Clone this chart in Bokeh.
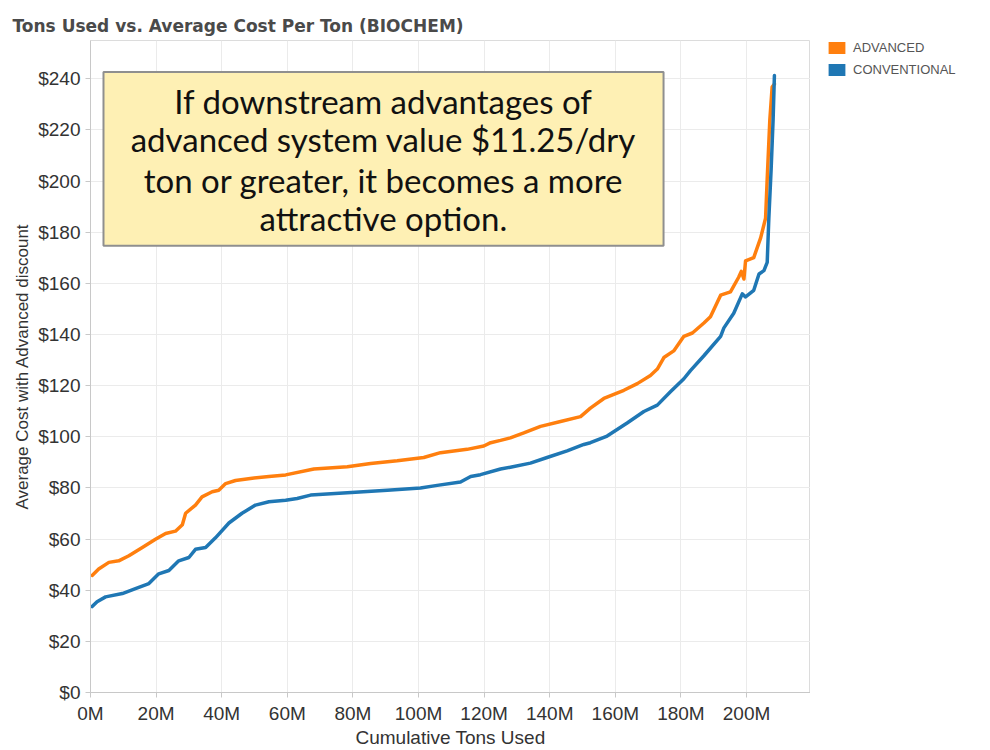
from bokeh.plotting import figure
from bokeh.layouts import row
from bokeh.models import (Range1d, FixedTicker, PrintfTickFormatter, NumeralTickFormatter,
                          Label, BoxAnnotation, Legend, LegendItem)
from bokeh.embed import file_html
from bokeh.resources import INLINE

# Cumulative tons used (millions) and average cost ($/ton)
adv_x = [0.5, 2.5, 5.6, 8.6, 11.7, 15.8, 19.8, 22.9, 25.9, 28.0, 29.0, 32.0, 34.0, 37.1, 39.1,
         41.2, 44.2, 49.3, 54.4, 59.5, 68.1, 78.3, 85.4, 93.5, 101.6, 106.7, 114.8, 119.9, 122.0,
         125.0, 128.0, 132.1, 137.2, 143.3, 149.4, 152.4, 156.5, 162.6, 166.7, 170.7, 172.8,
         174.8, 177.8, 180.9, 183.5, 187.0, 189.0, 192.1, 195.1, 197.6, 198.4, 199.2, 199.7,
         202.2, 204.3, 205.8, 206.3, 207.1, 207.8, 208.5]
adv_y = [45.8, 48.3, 50.9, 51.5, 53.5, 56.7, 59.9, 62.2, 63.1, 65.6, 70.1, 73.3, 76.5, 78.5, 79.1,
         81.7, 82.9, 83.8, 84.5, 85.1, 87.4, 88.3, 89.6, 90.6, 91.9, 93.8, 95.1, 96.4, 97.7,
         98.6, 99.6, 101.5, 104.1, 106.0, 107.9, 111.2, 115.0, 118.2, 120.8, 124.0, 126.5,
         131.0, 133.6, 139.3, 140.6, 144.5, 147.0, 155.4, 156.7, 162.4, 164.7, 161.7, 168.8,
         170.1, 177.8, 185.5, 200.9, 224.0, 236.8, 238.0]

conv_x = [0.5, 2.0, 4.6, 9.7, 13.7, 17.8, 20.8, 23.9, 26.9, 30.0, 32.0, 35.1, 38.1, 42.2, 46.2,
          50.3, 54.4, 59.5, 63.0, 67.1, 78.3, 90.5, 100.6, 105.7, 112.8, 115.9, 118.9, 125.0,
          128.0, 134.1, 139.2, 145.3, 150.4, 152.4, 157.5, 163.6, 168.7, 172.8, 176.8, 180.9,
          182.9, 187.0, 192.1, 193.1, 196.1, 198.7, 199.7, 202.2, 203.8, 205.3, 206.3, 206.8,
          207.5, 208.1, 208.5]
conv_y = [33.6, 35.5, 37.4, 38.7, 40.6, 42.6, 46.4, 47.7, 51.5, 52.8, 56.0, 56.7, 60.5, 66.3, 70.1,
          73.3, 74.6, 75.2, 75.9, 77.2, 78.1, 79.1, 80.0, 81.0, 82.3, 84.5, 85.2, 87.4,
          88.1, 89.7, 91.9, 94.5, 97.0, 97.7, 100.3, 105.4, 109.9, 112.4, 117.6, 122.7,
          125.9, 131.7, 139.3, 142.6, 148.3, 155.9, 154.7, 157.3, 163.7, 165.0, 168.2, 185.5,
          204.7, 224.0, 241.3]

x_ticks = [0, 20, 40, 60, 80, 100, 120, 140, 160, 180, 200]
y_ticks = [0, 20, 40, 60, 80, 100, 120, 140, 160, 180, 200, 220, 240]
series_names = ["ADVANCED", "CONVENTIONAL"]
title_text = "Tons Used vs. Average Cost Per Ton (BIOCHEM)"
note_lines = ["If downstream advantages of",
              "advanced system value $11.25/dry",
              "ton or greater, it becomes a more",
              "attractive option."]

ORANGE = "#FF7F0E"
BLUE = "#1F77B4"
AX_FONT = "Liberation Sans"

p = figure(width=810, height=750, output_backend="svg", toolbar_location=None,
           x_range=Range1d(0, 219.5), y_range=Range1d(0, 255),
           min_border_left=90, min_border_right=0, min_border_top=37, min_border_bottom=52)
p.background_fill_color = "white"
p.border_fill_color = "white"
p.outline_line_color = "#dcdcdc"

# title
p.title.text = title_text
p.title.align = "left"
p.title.offset = -78
p.title.text_font = "DejaVu Sans"
p.title.text_font_size = "17px"
p.title.text_font_style = "bold"
p.title.text_color = "#4a4a4a"
p.title.standoff = 10

# grid
p.xgrid.ticker = FixedTicker(ticks=x_ticks)
p.ygrid.ticker = FixedTicker(ticks=y_ticks)
p.grid.grid_line_color = "#ebebeb"
p.grid.grid_line_width = 1

# axes
p.xaxis.ticker = FixedTicker(ticks=x_ticks)
p.xaxis.formatter = PrintfTickFormatter(format="%dM")
p.yaxis.ticker = FixedTicker(ticks=y_ticks)
p.yaxis.formatter = NumeralTickFormatter(format="$0")
p.xaxis.axis_label = "Cumulative Tons Used"
p.yaxis.axis_label = "Average Cost with Advanced discount"
for ax in (p.xaxis, p.yaxis):
    ax.axis_line_color = "#c8c8c8"
    ax.major_tick_line_color = "#c8c8c8"
    ax.minor_tick_line_color = None
    ax.major_tick_in = 0
    ax.major_tick_out = 5
    ax.major_label_text_font = AX_FONT
    ax.major_label_text_font_size = "19px"
    ax.major_label_text_color = "#333333"
    ax.axis_label_text_font = AX_FONT
    ax.axis_label_text_font_style = "normal"
    ax.axis_label_text_color = "#333333"
p.xaxis.axis_label_text_font_size = "19px"
p.yaxis.axis_label_text_font_size = "17px"
p.xaxis.major_label_standoff = 5
p.xaxis.axis_label_standoff = 0
p.yaxis.major_label_standoff = 5
p.yaxis.axis_label_standoff = 3

# series
p.line(adv_x, adv_y, line_color=ORANGE, line_width=3.5, line_join="round", line_cap="round")
p.line(conv_x, conv_y, line_color=BLUE, line_width=3.5, line_join="round", line_cap="round")

# annotation box
p.add_layout(BoxAnnotation(left=3.96, right=174.7, bottom=174.7, top=242.7,
                           fill_color="#FEF0B4", fill_alpha=1.0,
                           line_color="#8f8f8f", line_width=2, line_alpha=1.0))
note_y = [231.5, 216.5, 200.6, 185.5]
for txt, yy in zip(note_lines, note_y):
    p.add_layout(Label(x=89.3, y=yy, text=txt, text_font="Lato", text_font_size="33px",
                       text_color="#111111", text_align="center", text_baseline="middle"))

# legend panel (separate blank figure to the right, square swatches)
lg = figure(width=180, height=750, output_backend="svg", toolbar_location=None,
            x_range=Range1d(0, 1), y_range=Range1d(0, 1),
            x_axis_type=None, y_axis_type=None,
            min_border_left=16, min_border_right=0, min_border_top=40, min_border_bottom=0)
lg.grid.visible = False
lg.outline_line_color = None
lg.background_fill_color = "white"
lg.border_fill_color = "white"
# zero-size swatch renderers (nothing visible inside the panel)
r_a = lg.quad(left=adv_x[:1], right=adv_x[:1], top=adv_y[:1], bottom=adv_y[:1],
              fill_color=ORANGE, line_color=None)
r_c = lg.quad(left=conv_x[:1], right=conv_x[:1], top=conv_y[:1], bottom=conv_y[:1],
              fill_color=BLUE, line_color=None)
legend = Legend(items=[LegendItem(label=series_names[0], renderers=[r_a]),
                       LegendItem(label=series_names[1], renderers=[r_c])],
                location="top_left", orientation="vertical",
                glyph_width=21, glyph_height=15, label_height=15, spacing=7,
                padding=0, margin=0, border_line_color=None, background_fill_alpha=0,
                label_text_font=AX_FONT, label_text_font_size="13px",
                label_text_color="#555555", label_standoff=6)
lg.add_layout(legend)

layout = row(p, lg, spacing=0)
open("out.html", "w").write(file_html(layout, INLINE))
